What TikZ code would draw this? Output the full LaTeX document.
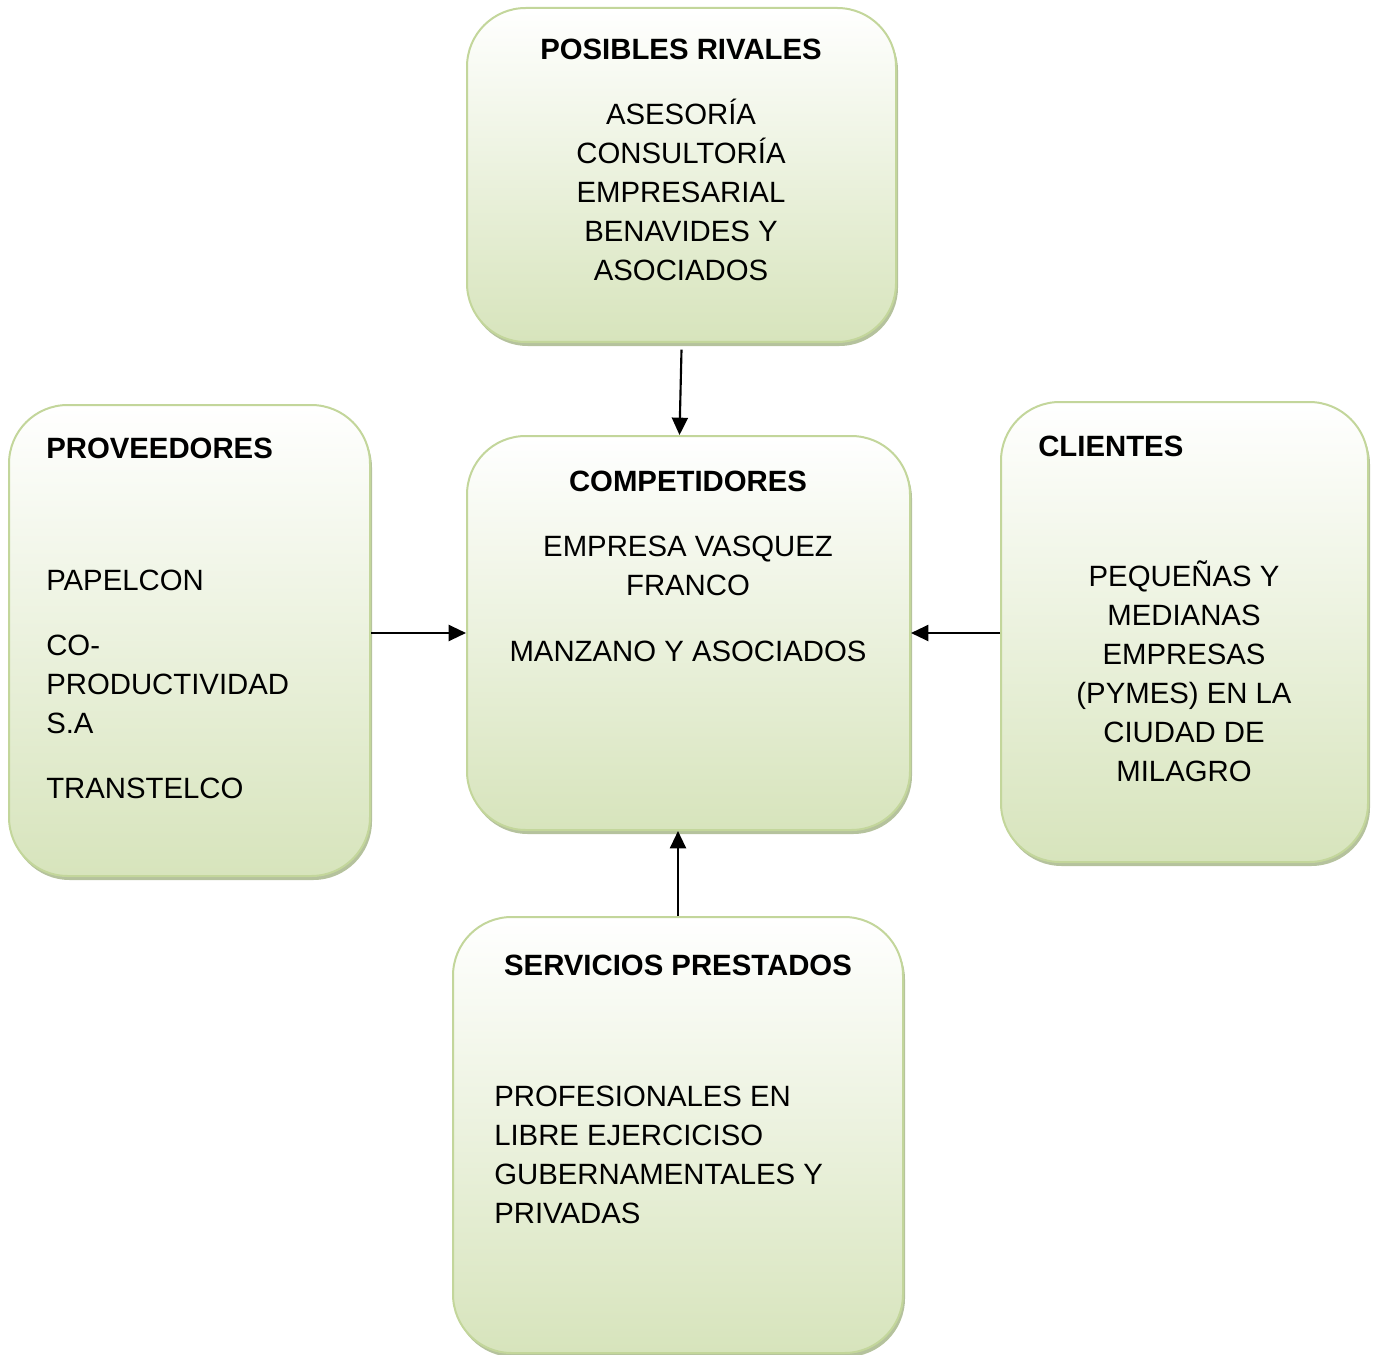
\documentclass[tikz,border=0pt]{standalone}
\usepackage{fontspec}
\setmainfont{Liberation Sans}
\usetikzlibrary{shadows,arrows.meta}
\definecolor{boxgreen}{HTML}{D7E4BC}
\definecolor{boxedge}{HTML}{C3D69B}
\definecolor{shadowcol}{HTML}{9CAE7C}
\tikzset{
  box/.style={draw=boxedge, line width=1.5pt, rounded corners=44pt,
    top color=white, bottom color=boxgreen,
    drop shadow={shadow xshift=1.5pt, shadow yshift=-3pt, fill=shadowcol, opacity=0.75}},
  boxwh/.style 2 args={minimum width=#1*0.75pt, minimum height=#2*0.75pt},
  txt/.style={inner sep=0pt, font=\fontsize{22}{29}\selectfont},
  ttl/.style={inner sep=0pt, font=\fontsize{22}{29}\selectfont\bfseries},
  arr/.style={line width=1.6pt, -{Triangle[length=13pt,width=12pt]}}
}
\begin{document}
\begin{tikzpicture}[x=0.75pt,y=-0.75pt]
\useasboundingbox (0,0) rectangle (1378,1355);
% boxes
\node[box, boxwh={429}{334}] (rivales) at (681.5,175) {};
\node[box, boxwh={361}{471}] (prov) at (189.5,640.5) {};
\node[box, boxwh={443}{394}] (comp) at (688.5,633) {};
\node[box, boxwh={367}{460}] (cli) at (1184.5,632) {};
\node[box, boxwh={450}{436}] (serv) at (678,1135) {};
% arrows
\draw[arr] ([yshift=-5pt]rivales.south) -- ([xshift=-1.5pt]rivales.south |- comp.north);
\draw[arr] (prov.east |- comp.west) -- (comp.west);
\draw[arr] (cli.west |- comp.east) -- (comp.east);
\draw[arr] (serv.north) -- (serv.north |- comp.south);
% top box text
\node[ttl, anchor=base] (r0) at (681,60) {POSIBLES RIVALES};
\node[txt, anchor=base] (r1) at (681,125) {ASESORÍA};
\node[txt, anchor=base] (r2) at (681,164) {CONSULTORÍA};
\node[txt, anchor=base] (r3) at (681,203) {EMPRESARIAL};
\node[txt, anchor=base] (r4) at (681,242) {BENAVIDES Y};
\node[txt, anchor=base] (r5) at (681,281) {ASOCIADOS};
% left box text
\node[ttl, anchor=base west] (p0) at (46,458) {PROVEEDORES};
\node[txt, anchor=base west] (p1) at (46,590) {PAPELCON};
\node[txt, anchor=base west] (p2) at (46,655) {CO-};
\node[txt, anchor=base west] (p3) at (46,694) {PRODUCTIVIDAD};
\node[txt, anchor=base west] (p4) at (46,733) {S.A};
\node[txt, anchor=base west] (p5) at (46,798) {TRANSTELCO};
% center box text
\node[ttl, anchor=base] (c0) at (688,491) {COMPETIDORES};
\node[txt, anchor=base] (c1) at (688,556) {EMPRESA VASQUEZ};
\node[txt, anchor=base] (c2) at (688,595) {FRANCO};
\node[txt, anchor=base] (c3) at (688,661) {MANZANO Y ASOCIADOS};
% right box text
\node[ttl, anchor=base west] (k0) at (1038,456) {CLIENTES};
\node[txt, anchor=base] (k1) at (1184,586) {PEQUEÑAS Y};
\node[txt, anchor=base] (k2) at (1184,625) {MEDIANAS};
\node[txt, anchor=base] (k3) at (1184,664) {EMPRESAS};
\node[txt, anchor=base] (k4) at (1184,703) {(PYMES) EN LA};
\node[txt, anchor=base] (k5) at (1184,742) {CIUDAD DE};
\node[txt, anchor=base] (k6) at (1184,781) {MILAGRO};
% bottom box text
\node[ttl, anchor=base] (s0) at (678,975) {SERVICIOS PRESTADOS};
\node[txt, anchor=base west] (s1) at (494,1106) {PROFESIONALES EN};
\node[txt, anchor=base west] (s2) at (494,1145) {LIBRE EJERCICISO};
\node[txt, anchor=base west] (s3) at (494,1184) {GUBERNAMENTALES Y};
\node[txt, anchor=base west] (s4) at (494,1223) {PRIVADAS};
\end{tikzpicture}
\end{document}
